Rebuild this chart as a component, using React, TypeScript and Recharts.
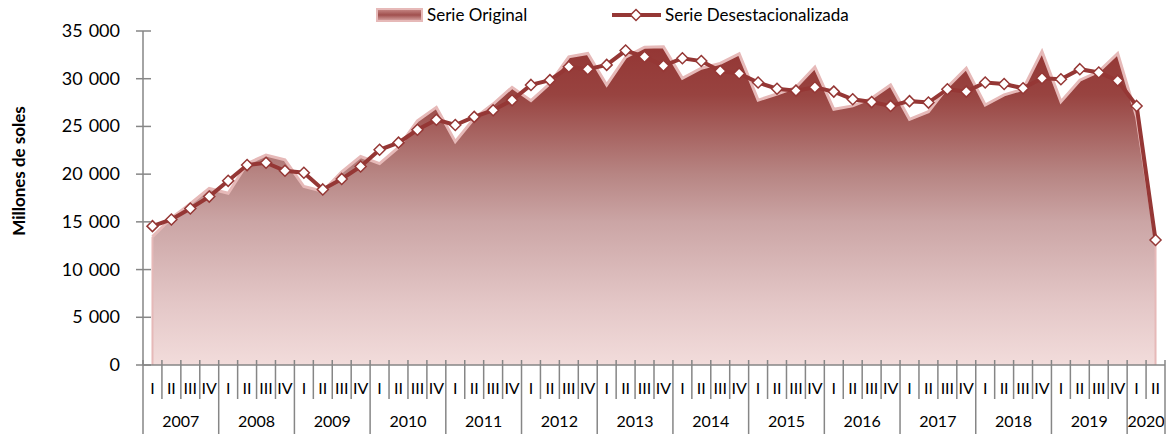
import React from 'react';
import { ComposedChart, Area, Line, XAxis, YAxis, ReferenceLine, Legend } from 'recharts';

const years = [2007, 2008, 2009, 2010, 2011, 2012, 2013, 2014, 2015, 2016, 2017, 2018, 2019, 2020];
const quarterNames = ['I', 'II', 'III', 'IV'];
const quartersPerYear = [4, 4, 4, 4, 4, 4, 4, 4, 4, 4, 4, 4, 4, 2];

const serieOriginal = [
  13450, 15400, 16900, 18500,
  18000, 21100, 22000, 21500,
  18700, 18200, 20250, 21850,
  21100, 22800, 25600, 27000,
  23400, 25850, 27350, 29100,
  27700, 29500, 32300, 32650,
  29350, 32250, 33300, 33350,
  30050, 31100, 31600, 32600,
  27750, 28400, 29100, 31200,
  26800, 27150, 27950, 29350,
  25750, 26550, 29100, 31100,
  27250, 28300, 28900, 32850,
  27600, 29850, 30750, 32650,
  26000, 13100,
];

const serieDesest = [
  14550, 15250, 16400, 17650,
  19300, 20950, 21200, 20350,
  20150, 18400, 19500, 20800,
  22550, 23300, 24650, 25700,
  25150, 26000, 26700, 27750,
  29350, 29850, 31250, 31000,
  31450, 32950, 32300, 31350,
  32150, 31850, 30800, 30550,
  29600, 28950, 28750, 29100,
  28650, 27850, 27550, 27150,
  27650, 27500, 28900, 28650,
  29600, 29450, 29000, 30050,
  29950, 31000, 30650, 29800,
  27150, 13100,
];

const yTicks = [0, 5000, 10000, 15000, 20000, 25000, 30000, 35000];

// categories
const catYear: number[] = [];
const catQuarter: string[] = [];
const catPos: number[] = [];
const catCount: number[] = [];
years.forEach((yr, yi) => {
  for (let q = 0; q < quartersPerYear[yi]; q++) {
    catYear.push(yr);
    catQuarter.push(quarterNames[q]);
    catPos.push(q);
    catCount.push(quartersPerYear[yi]);
  }
});
const categories = catYear.map((yr, i) => `${yr}-${catQuarter[i]}`);

const data = categories.map((c, i) => ({
  cat: c,
  original: serieOriginal[i],
  desest: serieDesest[i],
}));

const W = 1175;
const H = 434;
const PLOT_LEFT = 143;
const PLOT_RIGHT = 1165;
const BAND = (PLOT_RIGHT - PLOT_LEFT) / categories.length;
const FONT = 'Lato, "Open Sans", sans-serif';
const AXIS = '#868686';
const DARK = '#953735';
const PALE = '#e6b9b8';

const YTick = (props: any) => {
  const { x, y, payload } = props;
  const v = payload.value as number;
  return (
    <g>
      <line x1={x - 7} x2={x + 8} y1={y} y2={y} stroke={AXIS} strokeWidth={1.5} />
      <text x={x - 23} y={y} dy={6} textAnchor="end" fontSize={18} fill="#000" fontFamily={FONT}>
        {v === 0 ? (
          '0'
        ) : (
          <>
            <tspan>{Math.round(v / 1000)}</tspan>
            <tspan dx={6}>000</tspan>
          </>
        )}
      </text>
    </g>
  );
};

const XTick = (props: any) => {
  const { x, y, payload } = props;
  const i = payload.index;
  const half = BAND / 2;
  const first = catPos[i] === 0;
  const last = i === categories.length - 1;
  return (
    <g>
      <line x1={x - half} x2={x - half} y1={y - 5} y2={first ? y + 69 : y + 34} stroke={AXIS} strokeWidth={1.5} />
      {last && <line x1={x + half} x2={x + half} y1={y - 5} y2={y + 69} stroke={AXIS} strokeWidth={1.5} />}
      <text x={x} y={y + 29} textAnchor="middle" fontSize={16} fill="#000" fontFamily={FONT}>
        {catQuarter[i]}
      </text>
      {catPos[i] === catCount[i] / 2 - 1 && (
        <text x={x + half} y={y + 62} textAnchor="middle" fontSize={16} fill="#000" fontFamily={FONT}>
          {catYear[i]}
        </text>
      )}
    </g>
  );
};

const Diamond = (props: any) => {
  const { cx, cy } = props;
  if (cx == null || cy == null) return null;
  const r = 5.5;
  return (
    <path
      d={`M${cx},${cy - r}L${cx + r},${cy}L${cx},${cy + r}L${cx - r},${cy}Z`}
      fill="#fff"
      stroke={DARK}
      strokeWidth={1.5}
    />
  );
};

const renderLegend = () => (
  <svg width={W} height={28} style={{ display: 'block' }}>
    <defs>
      <linearGradient id="legGrad" x1="0" y1="0" x2="0" y2="1">
        <stop offset="0" stopColor="#c98a88" />
        <stop offset="0.5" stopColor="#a0504e" />
        <stop offset="1" stopColor="#d9a8a7" />
      </linearGradient>
    </defs>
    <rect x={377} y={9} width={45} height={12} fill="url(#legGrad)" stroke={PALE} strokeWidth={2} />
    <text x={427} y={21} fontSize={17} fontFamily={FONT} fill="#000">Serie Original</text>
    <line x1={612} x2={661} y1={15} y2={15} stroke={DARK} strokeWidth={4} />
    <path d="M636,9.5L641.5,15L636,20.5L630.5,15Z" fill="#fff" stroke={DARK} strokeWidth={1.5} />
    <text x={665} y={21} fontSize={17} fontFamily={FONT} fill="#000">Serie Desestacionalizada</text>
  </svg>
);

export default function App() {
  return (
    <div style={{ position: 'absolute', left: 0, top: 0, width: W, height: H, background: '#fff', fontFamily: FONT }}>
      <ComposedChart width={W} height={H} data={data} margin={{ top: 31, right: W - PLOT_RIGHT, bottom: 0, left: 0 }}>
        <defs>
          <linearGradient id="areaGrad" x1="0" y1="0" x2="0" y2="1">
            <stop offset="0" stopColor="#943634" />
            <stop offset="0.15" stopColor="#984340" />
            <stop offset="0.4" stopColor="#b78583" />
            <stop offset="0.55" stopColor="#cba5a5" />
            <stop offset="0.8" stopColor="#e3c6c6" />
            <stop offset="1" stopColor="#f2dcdb" />
          </linearGradient>
        </defs>
        <Legend
          verticalAlign="middle"
          align="center"
          layout="horizontal"
          content={renderLegend}
          wrapperStyle={{ top: 0, left: 0, width: W, height: 28 }}
        />
        <XAxis
          dataKey="cat"
          scale="point"
          padding={{ left: BAND / 2, right: BAND / 2 }}
          interval={0}
          tickLine={false}
          tickSize={0}
          tickMargin={0}
          axisLine={{ stroke: AXIS, strokeWidth: 1.5 }}
          tick={XTick}
          height={H - 365}
        />
        <YAxis
          domain={[0, 35000]}
          ticks={yTicks}
          interval={0}
          width={PLOT_LEFT}
          tickLine={false}
          tickSize={0}
          tickMargin={0}
          axisLine={{ stroke: AXIS, strokeWidth: 1.5 }}
          tick={YTick}
          label={() => (
            <text
              x={25}
              y={171}
              transform="rotate(-90 25 171)"
              textAnchor="middle"
              fontSize={17}
              fontWeight="bold"
              fontFamily={FONT}
              fill="#000"
            >
              Millones de soles
            </text>
          )}
        />
        <Area
          type="linear"
          dataKey="original"
          name="Serie Original"
          fill="url(#areaGrad)"
          fillOpacity={1}
          stroke={PALE}
          strokeWidth={3}
          dot={false}
          activeDot={false}
          isAnimationActive={false}
        />
        <ReferenceLine
          segment={[{ x: categories[0], y: 0 }, { x: categories[0], y: serieOriginal[0] }]}
          stroke={PALE}
          strokeWidth={2}
        />
        <ReferenceLine
          segment={[
            { x: categories[categories.length - 1], y: 0 },
            { x: categories[categories.length - 1], y: serieOriginal[serieOriginal.length - 1] },
          ]}
          stroke={PALE}
          strokeWidth={2}
        />
        <Line
          type="linear"
          dataKey="desest"
          name="Serie Desestacionalizada"
          stroke={DARK}
          strokeWidth={4}
          dot={<Diamond />}
          activeDot={false}
          isAnimationActive={false}
        />
      </ComposedChart>
    </div>
  );
}
